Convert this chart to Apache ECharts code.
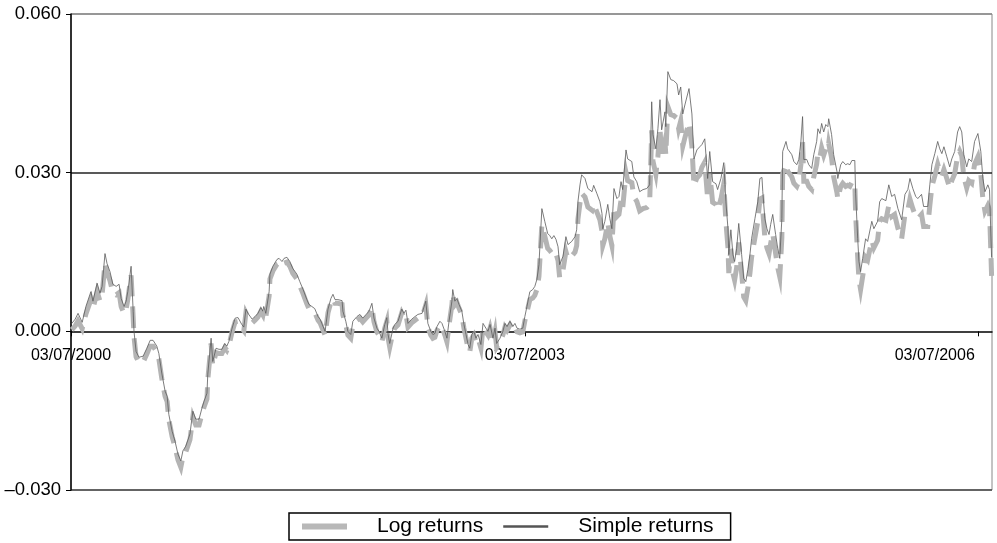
<!DOCTYPE html>
<html><head><meta charset="utf-8">
<script src="https://cdn.jsdelivr.net/npm/echarts@6/dist/echarts.min.js"></script>
<style>html,body{margin:0;padding:0;background:#fff}#c{width:997px;height:543px}</style>
</head><body><div id="c"></div>
<script>
// Days elapsed since 03/07/2000 (weekly observations)
const days = [2,10,17,27,36,48,53,63,70,75,
82,87,94,101,109,116,121,128,133,137,
145,150,152,157,164,174,183,191,198,207,
212,219,227,232,236,244,251,258,265,270,
277,287,294,301,309,316,321,328,330,338,
342,350,357,364,371,376,381,388,396,400,
403,412,417,422,427,437,444,451,458,463,
465,470,478,480,487,497,502,509,514,521,
528,535,545,552,560,569,574,581,588,596,
601,605,613,620,627,632,637,644,654,656,
663,668,675,680,690,697,704,712,719,726,
731,738,743,750,757,762,765,769,777,781,
789,798,803,808,813,822,830,837,847,851,
856,861,868,873,878,883,890,895,902,907,
912,919,921,926,931,936,943,948,953,958,
962,967,972,977,982,989,994,1001,1006,1011,
1018,1023,1027,1035,1042,1047,1052,1059,1066,1071,
1076,1083,1090,1095,1100,1107,1114,1119,1124,1129,
1131,1136,1143,1150,1155,1160,1165,1170,1175,1179,
1187,1194,1199,1208,1216,1220,1223,1228,1232,1240,
1247,1257,1261,1269,1276,1281,1283,1288,1295,1300,
1305,1310,1317,1322,1327,1331,1339,1343,1353,1358,
1365,1372,1380,1389,1396,1401,1404,1411,1416,1421,
1425,1433,1435,1440,1447,1454,1462,1466,1471,1476,
1481,1491,1498,1503,1510,1517,1522,1529,1536,1541,
1548,1556,1560,1568,1575,1580,1585,1587,1592,1597,
1601,1606,1611,1618,1623,1628,1633,1638,1642,1650,
1657,1662,1667,1669,1674,1679,1684,1688,1693,1700,
1705,1710,1715,1717,1725,1729,1739,1744,1751,1756,
1761,1765,1768,1775,1780,1787,1792,1799,1802,1807,
1811,1816,1821,1826,1828,1835,1840,1848,1850,1857,
1862,1869,1874,1879,1884,1891,1893,1898,1901,1905,
1910,1917,1922,1932,1937,1946,1951,1956,1966,1973,
1980,1987,1995,2004,2012,2019,2024,2031,2038,2043,
2052,2057,2067,2072,2077,2084,2091,2096,2101,2106,
2113,2120,2125,2132,2139,2144,2149,2154,2161,2166,
2173,2180,2188,2195,2200,2205,2212,2216,2221];

const simpleReturns = [0.0015,0.0023,0.0034,0.0017,0.0047,0.0075,0.0057,0.0091,0.0072,0.0085,
0.0147,0.0128,0.0113,0.0089,0.0085,0.0089,0.0062,0.0047,0.0057,0.0075,
0.0123,0.0038,0.0000,-0.0038,-0.0049,-0.0047,-0.0032,-0.0017,-0.0017,-0.0028,
-0.0042,-0.0079,-0.0113,-0.0123,-0.0157,-0.0189,-0.0208,-0.0232,-0.0245,-0.0226,
-0.0217,-0.0194,-0.0151,-0.0166,-0.0166,-0.0145,-0.0132,-0.0117,-0.0081,-0.0013,
-0.0057,-0.0032,-0.0034,-0.0034,-0.0023,-0.0028,-0.0019,0.0004,0.0025,0.0023,
0.0026,0.0013,0.0008,0.0042,0.0034,0.0023,0.0028,0.0034,0.0045,0.0038,
0.0047,0.0034,0.0075,0.0108,0.0123,0.0136,0.0138,0.0132,0.0138,0.0140,
0.0132,0.0119,0.0108,0.0094,0.0079,0.0060,0.0051,0.0047,0.0043,0.0028,
0.0023,0.0015,0.0000,0.0042,0.0062,0.0070,0.0060,0.0060,0.0058,0.0038,
0.0019,0.0000,-0.0006,0.0019,0.0028,0.0032,0.0025,0.0032,0.0038,0.0053,
0.0025,0.0006,0.0000,-0.0013,0.0013,0.0026,-0.0006,-0.0023,0.0006,0.0013,
0.0019,0.0042,0.0034,0.0040,0.0015,0.0023,0.0028,0.0032,0.0034,0.0036,
0.0057,0.0015,0.0000,-0.0006,-0.0004,0.0009,0.0019,0.0015,0.0000,-0.0013,
0.0019,0.0057,0.0079,0.0057,0.0062,0.0051,0.0038,0.0013,-0.0006,-0.0025,
-0.0032,-0.0006,0.0000,-0.0013,-0.0006,-0.0025,0.0015,0.0006,0.0000,0.0013,
-0.0013,0.0006,-0.0023,-0.0013,0.0000,0.0015,0.0009,0.0019,0.0009,0.0015,
0.0006,0.0004,0.0006,0.0028,0.0047,0.0075,0.0079,0.0085,0.0098,0.0126,
0.0157,0.0232,0.0208,0.0185,0.0181,0.0175,0.0181,0.0174,0.0160,0.0126,
0.0142,0.0179,0.0164,0.0170,0.0179,0.0192,0.0245,0.0277,0.0296,0.0289,
0.0270,0.0264,0.0276,0.0260,0.0245,0.0223,0.0194,0.0208,0.0240,0.0213,
0.0194,0.0270,0.0251,0.0255,0.0283,0.0268,0.0343,0.0326,0.0321,0.0292,
0.0283,0.0264,0.0268,0.0270,0.0277,0.0434,0.0372,0.0345,0.0383,0.0438,
0.0381,0.0415,0.0387,0.0491,0.0476,0.0474,0.0468,0.0447,0.0462,0.0411,
0.0428,0.0459,0.0411,0.0326,0.0343,0.0349,0.0353,0.0364,0.0289,0.0340,
0.0283,0.0279,0.0268,0.0289,0.0319,0.0245,0.0194,0.0145,0.0192,0.0145,
0.0132,0.0157,0.0204,0.0145,0.0100,0.0094,0.0117,0.0145,0.0175,0.0213,
0.0245,0.0289,0.0291,0.0264,0.0213,0.0194,0.0183,0.0202,0.0221,0.0183,
0.0157,0.0138,0.0213,0.0340,0.0359,0.0345,0.0334,0.0321,0.0315,0.0325,
0.0359,0.0406,0.0325,0.0325,0.0315,0.0308,0.0334,0.0359,0.0383,0.0374,
0.0393,0.0377,0.0391,0.0387,0.0402,0.0372,0.0334,0.0302,0.0289,0.0315,
0.0321,0.0315,0.0317,0.0315,0.0323,0.0323,0.0260,0.0175,0.0132,0.0113,
0.0138,0.0175,0.0170,0.0208,0.0194,0.0208,0.0245,0.0251,0.0247,0.0277,
0.0255,0.0259,0.0232,0.0211,0.0259,0.0268,0.0289,0.0270,0.0255,0.0251,
0.0259,0.0236,0.0236,0.0277,0.0315,0.0336,0.0359,0.0345,0.0336,0.0349,
0.0330,0.0311,0.0326,0.0340,0.0377,0.0387,0.0377,0.0334,0.0311,0.0326,
0.0321,0.0359,0.0374,0.0340,0.0289,0.0264,0.0277,0.0268,0.0140];

const logReturns = [0.0003,0.0010,0.0020,0.0005,0.0033,0.0060,0.0043,0.0075,0.0057,0.0069,
0.0129,0.0111,0.0096,0.0073,0.0069,0.0073,0.0047,0.0033,0.0042,0.0060,
0.0106,0.0026,-0.0010,-0.0048,-0.0060,-0.0058,-0.0043,-0.0028,-0.0028,-0.0039,
-0.0052,-0.0089,-0.0123,-0.0133,-0.0167,-0.0199,-0.0219,-0.0243,-0.0257,-0.0237,
-0.0228,-0.0205,-0.0162,-0.0177,-0.0177,-0.0156,-0.0143,-0.0128,-0.0092,-0.0023,
-0.0065,-0.0040,-0.0042,-0.0042,-0.0031,-0.0036,-0.0027,-0.0003,0.0018,0.0016,
0.0019,0.0006,0.0001,0.0035,0.0027,0.0016,0.0021,0.0027,0.0038,0.0031,
0.0040,0.0027,0.0067,0.0099,0.0114,0.0127,0.0129,0.0123,0.0129,0.0131,
0.0123,0.0110,0.0099,0.0086,0.0071,0.0052,0.0043,0.0040,0.0036,0.0021,
0.0016,0.0008,-0.0007,0.0035,0.0055,0.0062,0.0053,0.0053,0.0051,0.0031,
0.0012,-0.0007,-0.0013,0.0012,0.0021,0.0025,0.0018,0.0025,0.0031,0.0046,
0.0018,-0.0001,-0.0007,-0.0020,0.0006,0.0019,-0.0013,-0.0030,-0.0001,0.0006,
0.0012,0.0035,0.0027,0.0033,0.0008,0.0016,0.0021,0.0025,0.0027,0.0029,
0.0050,0.0008,-0.0007,-0.0013,-0.0011,0.0002,0.0012,0.0008,-0.0007,-0.0020,
0.0012,0.0050,0.0071,0.0050,0.0055,0.0044,0.0031,0.0006,-0.0013,-0.0032,
-0.0039,-0.0013,-0.0007,-0.0020,-0.0013,-0.0032,0.0008,-0.0001,-0.0007,0.0006,
-0.0020,-0.0001,-0.0030,-0.0020,-0.0007,0.0008,0.0002,0.0012,0.0002,0.0008,
-0.0001,-0.0003,-0.0001,0.0020,0.0036,0.0060,0.0063,0.0068,0.0079,0.0104,
0.0132,0.0202,0.0180,0.0157,0.0153,0.0148,0.0153,0.0147,0.0134,0.0101,
0.0116,0.0151,0.0137,0.0142,0.0150,0.0162,0.0212,0.0243,0.0261,0.0254,
0.0235,0.0229,0.0241,0.0225,0.0211,0.0190,0.0162,0.0175,0.0206,0.0180,
0.0162,0.0235,0.0217,0.0221,0.0248,0.0233,0.0300,0.0285,0.0281,0.0254,
0.0246,0.0228,0.0232,0.0234,0.0240,0.0380,0.0322,0.0297,0.0331,0.0383,
0.0330,0.0360,0.0334,0.0425,0.0410,0.0408,0.0403,0.0383,0.0398,0.0350,
0.0366,0.0395,0.0350,0.0275,0.0290,0.0296,0.0310,0.0320,0.0250,0.0298,
0.0244,0.0240,0.0230,0.0250,0.0279,0.0208,0.0158,0.0110,0.0156,0.0110,
0.0097,0.0121,0.0168,0.0110,0.0065,0.0058,0.0082,0.0110,0.0140,0.0177,
0.0208,0.0250,0.0252,0.0227,0.0177,0.0158,0.0147,0.0166,0.0185,0.0147,
0.0121,0.0103,0.0177,0.0298,0.0316,0.0303,0.0292,0.0280,0.0274,0.0284,
0.0316,0.0358,0.0284,0.0284,0.0274,0.0268,0.0292,0.0316,0.0338,0.0330,
0.0347,0.0333,0.0345,0.0342,0.0355,0.0328,0.0292,0.0262,0.0250,0.0274,
0.0280,0.0274,0.0276,0.0274,0.0282,0.0282,0.0222,0.0140,0.0098,0.0079,
0.0104,0.0140,0.0135,0.0172,0.0158,0.0172,0.0208,0.0213,0.0210,0.0238,
0.0217,0.0221,0.0195,0.0175,0.0221,0.0230,0.0250,0.0232,0.0217,0.0213,
0.0221,0.0198,0.0198,0.0238,0.0274,0.0294,0.0316,0.0303,0.0294,0.0306,
0.0289,0.0271,0.0285,0.0298,0.0332,0.0341,0.0332,0.0292,0.0271,0.0285,
0.0280,0.0316,0.0330,0.0298,0.0250,0.0227,0.0238,0.0230,0.0105];

// Tick labels
const xTickDays = [0, 1095, 2190];
const xTickLabels = ['03/07/2000', '03/07/2003', '03/07/2006'];
const yTicks = [-0.03, 0, 0.03, 0.06];
const yTickLabels = ['\u20130.030', '0.000', '0.030', '0.060'];
const seriesNames = ['Log returns', 'Simple returns'];

const FONT = 'Liberation Sans, Arial, Helvetica, sans-serif';
const zip = (xs, ys) => xs.map((x, i) => [x, ys[i]]);

const GRID_H = 543 - 14 - 53;
const chart = echarts.init(document.getElementById('c'), null, {renderer: 'canvas'});
chart.setOption({
  animation: false,
  backgroundColor: '#fff',
  grid: {left: 71, right: 5, top: 14, bottom: 53, show: true, borderColor: '#888', borderWidth: 1},
  xAxis: {
    type: 'value', min: 0, max: 2222, interval: 1095,
    position: 'bottom', offset: -GRID_H / 3,
    axisLine: {onZero: false, lineStyle: {color: '#000', width: 1.5}},
    axisTick: {show: true, length: 5, lineStyle: {color: '#000'}},
    splitLine: {show: false},
    axisLabel: {
      margin: 16, color: '#000', fontFamily: FONT, fontSize: 16, showMaxLabel: false,
      formatter: v => {
        const i = xTickDays.indexOf(Math.round(v));
        if (i < 0) return '';
        return i === 2 ? '{r|' + xTickLabels[i] + '}' : xTickLabels[i];
      },
      rich: {r: {padding: [0, 88, 0, 0], fontSize: 16, fontFamily: FONT, color: '#000'}}
    }
  },
  yAxis: {
    type: 'value', min: -0.03, max: 0.06, interval: 0.03,
    axisLine: {show: true, lineStyle: {color: '#000', width: 1.5}},
    axisTick: {show: true, length: 5, lineStyle: {color: '#000'}},
    splitLine: {show: true, lineStyle: {color: ['#444', 'rgba(0,0,0,0)', '#222', '#888'], width: 1.5}},
    axisLabel: {
      margin: 10, color: '#000', fontFamily: FONT, fontSize: 18.5,
      formatter: v => {
        const i = yTicks.findIndex(t => Math.abs(t - v) < 1e-9);
        return i < 0 ? '' : yTickLabels[i];
      }
    }
  },
  legend: {
    left: 289, top: 513,
    padding: [3, 17, 3, 13],
    borderColor: '#000', borderWidth: 1.5,
    itemWidth: 45, itemHeight: 6, itemGap: 20,
    textStyle: {fontFamily: FONT, fontSize: 21, color: '#000', padding: [0, 0, 0, 25]},
    data: [
      {name: seriesNames[0], icon: 'rect', itemStyle: {color: '#b8b8b8'}},
      {name: seriesNames[1], icon: 'path://M0,0H0.01V0.01H0Z M0,1.5H50V4.5H0Z M0,6H0.01V5.99H0Z', itemStyle: {color: '#555'}}
    ]
  },
  series: [
    {
      name: seriesNames[0], type: 'line', data: zip(days, logReturns),
      showSymbol: false, symbol: 'none',
      lineStyle: {color: '#b4b4b4', width: 5, type: [22, 10], cap: 'butt', join: 'miter'},
      itemStyle: {color: '#b8b8b8'}, z: 2
    },
    {
      name: seriesNames[1], type: 'line', data: zip(days, simpleReturns),
      showSymbol: false, symbol: 'none',
      lineStyle: {color: '#5a5a5a', width: 0.8},
      itemStyle: {color: '#555'}, z: 3
    }
  ]
});
</script></body></html>
